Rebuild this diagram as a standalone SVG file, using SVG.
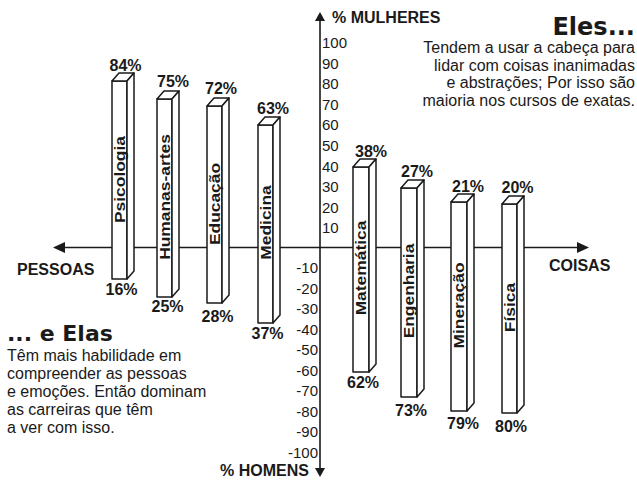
<svg xmlns="http://www.w3.org/2000/svg" width="637" height="483" viewBox="0 0 637 483">
<style>
  .bar { fill: #fff; stroke: #1a1a1a; stroke-width: 1.5; stroke-linejoin: round; }
  .axis { stroke: #1a1a1a; stroke-width: 1.6; fill: none; }
  .head { fill: #1a1a1a; }
  .pct { font-family: "Liberation Sans", Arial, sans-serif; font-weight: bold; font-size: 16px; fill: #1a1a1a; text-anchor: middle; }
  .lbl { font-family: "Liberation Sans", Arial, sans-serif; font-weight: bold; font-size: 15px; fill: #1a1a1a; text-anchor: middle; }
  .tick { font-family: "Liberation Sans", Arial, sans-serif; font-size: 15px; fill: #1a1a1a; }
  .neg { text-anchor: end; }
  .ax { font-family: "Liberation Sans", Arial, sans-serif; font-weight: bold; font-size: 16px; fill: #1a1a1a; }
  .head1 { font-family: "DejaVu Sans", sans-serif; font-weight: bold; fill: #1a1a1a; }
  .para { font-family: "Liberation Sans", Arial, sans-serif; font-size: 16px; fill: #1a1a1a; }
</style>

<g id="axes">
  <line class="axis" x1="62" y1="247.5" x2="580" y2="247.5"/>
  <polygon class="head" points="53,247.5 65,242 65,253"/>
  <polygon class="head" points="589,247.5 577,242 577,253"/>
  <line class="axis" x1="320" y1="18" x2="320" y2="470"/>
  <polygon class="head" points="320,12 315,21 325,21"/>
  <polygon class="head" points="320,477 315,468 325,468"/>
  <text class="ax" x="332" y="23">% MULHERES</text>
  <text class="ax" x="220" y="476">% HOMENS</text>
  <text class="ax" x="17" y="275">PESSOAS</text>
  <text class="ax" x="549" y="271">COISAS</text>
  <g class="tick">
    <text x="322" y="48">100</text>
    <text x="322" y="68.6">90</text>
    <text x="322" y="89.2">80</text>
    <text x="322" y="109.8">70</text>
    <text x="322" y="130.4">60</text>
    <text x="322" y="151">50</text>
    <text x="322" y="171.6">40</text>
    <text x="322" y="192.2">30</text>
    <text x="322" y="212.8">20</text>
    <text x="322" y="233.4">10</text>
  </g>
  <g class="tick neg">
    <text x="318" y="273">-10</text>
    <text x="318" y="293.5">-20</text>
    <text x="318" y="314">-30</text>
    <text x="318" y="334.5">-40</text>
    <text x="318" y="355">-50</text>
    <text x="318" y="375.5">-60</text>
    <text x="318" y="396">-70</text>
    <text x="318" y="416.5">-80</text>
    <text x="318" y="437">-90</text>
    <text x="318" y="457.5">-100</text>
  </g>
</g>

<g id="connectors"></g>

<g id="bar-psicologia">
  <rect class="bar" x="112" y="81" width="15" height="198"/>
  <path class="bar" d="M112,81 L119,73 L134,73 L127,81 Z"/>
  <path class="bar" d="M127,81 L134,73 L134,271 L127,279 Z"/>
  <text class="lbl" transform="translate(124.5,179.5) rotate(-90) scale(1.16,1)">Psicologia</text>
  <text class="pct" x="125.5" y="71">84%</text>
  <text class="pct" x="121.5" y="295">16%</text>
</g>

<g id="bar-humanas">
  <rect class="bar" x="157" y="99" width="15" height="198"/>
  <path class="bar" d="M157,99 L164,91 L179,91 L172,99 Z"/>
  <path class="bar" d="M172,99 L179,91 L179,289 L172,297 Z"/>
  <text class="lbl" transform="translate(169.5,197) rotate(-90) scale(1.16,1)">Humanas-artes</text>
  <text class="pct" x="173" y="87">75%</text>
  <text class="pct" x="167.5" y="312">25%</text>
</g>

<g id="bar-educacao">
  <rect class="bar" x="207" y="106" width="15" height="197"/>
  <path class="bar" d="M207,106 L214,98 L229,98 L222,106 Z"/>
  <path class="bar" d="M222,106 L229,98 L229,295 L222,303 Z"/>
  <text class="lbl" transform="translate(219.5,204) rotate(-90) scale(1.16,1)">Educação</text>
  <text class="pct" x="221" y="94">72%</text>
  <text class="pct" x="217.5" y="322">28%</text>
</g>

<g id="bar-medicina">
  <rect class="bar" x="258" y="125" width="15" height="198"/>
  <path class="bar" d="M258,125 L265,117 L280,117 L273,125 Z"/>
  <path class="bar" d="M273,125 L280,117 L280,315 L273,323 Z"/>
  <text class="lbl" transform="translate(270.5,222.5) rotate(-90) scale(1.16,1)">Medicina</text>
  <text class="pct" x="273" y="114">63%</text>
  <text class="pct" x="267.5" y="339">37%</text>
</g>

<g id="bar-matematica">
  <rect class="bar" x="353" y="167" width="16" height="205"/>
  <path class="bar" d="M353,167 L360,159 L376,159 L369,167 Z"/>
  <path class="bar" d="M369,167 L376,159 L376,364 L369,372 Z"/>
  <text class="lbl" transform="translate(366,268) rotate(-90) scale(1.16,1)">Matemática</text>
  <text class="pct" x="371" y="157">38%</text>
  <text class="pct" x="363" y="388">62%</text>
</g>

<g id="bar-engenharia">
  <rect class="bar" x="401" y="188" width="16" height="209"/>
  <path class="bar" d="M401,188 L408,180 L424,180 L417,188 Z"/>
  <path class="bar" d="M417,188 L424,180 L424,389 L417,397 Z"/>
  <text class="lbl" transform="translate(414,291) rotate(-90) scale(1.16,1)">Engenharia</text>
  <text class="pct" x="417" y="177">27%</text>
  <text class="pct" x="411" y="416">73%</text>
</g>

<g id="bar-mineracao">
  <rect class="bar" x="451" y="202" width="16" height="209"/>
  <path class="bar" d="M451,202 L458,194 L474,194 L467,202 Z"/>
  <path class="bar" d="M467,202 L474,194 L474,403 L467,411 Z"/>
  <text class="lbl" transform="translate(464,305.5) rotate(-90) scale(1.16,1)">Mineração</text>
  <text class="pct" x="468" y="192">21%</text>
  <text class="pct" x="463" y="429">79%</text>
</g>

<g id="bar-fisica">
  <rect class="bar" x="502" y="204" width="15" height="209"/>
  <path class="bar" d="M502,204 L509,196 L524,196 L517,204 Z"/>
  <path class="bar" d="M517,204 L524,196 L524,405 L517,413 Z"/>
  <text class="lbl" transform="translate(514.5,307.5) rotate(-90) scale(1.16,1)">Física</text>
  <text class="pct" x="517.5" y="193">20%</text>
  <text class="pct" x="511" y="432">80%</text>
</g>

<g id="text-eles">
  <text class="head1" x="635" y="34.5" font-size="24" text-anchor="end">Eles...</text>
  <g class="para" text-anchor="end">
    <text x="635" y="53">Tendem a usar a cabeça para</text>
    <text x="635" y="70.5">lidar com coisas inanimadas</text>
    <text x="635" y="88">e abstrações; Por isso são</text>
    <text x="635" y="105.5">maioria nos cursos de exatas.</text>
  </g>
</g>

<g id="text-elas">
  <text class="head1" x="7" y="341" font-size="22">... e Elas</text>
  <g class="para">
    <text x="7" y="361">Têm mais habilidade em</text>
    <text x="7" y="379">compreender as pessoas</text>
    <text x="7" y="397">e emoções. Então dominam</text>
    <text x="7" y="415">as carreiras que têm</text>
    <text x="7" y="433">a ver com isso.</text>
  </g>
</g>
</svg>
